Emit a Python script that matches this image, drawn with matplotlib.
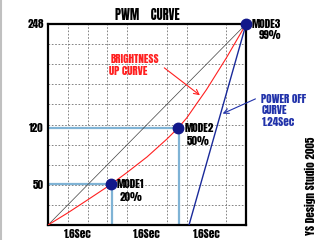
import matplotlib
matplotlib.use("Agg")
import matplotlib.pyplot as plt
from matplotlib.lines import Line2D

plt.rcParams['font.family'] = ['Anton', 'DejaVu Sans']
plt.rcParams['font.stretch'] = 'condensed'

# data (x in grid units 0..10, y in PWM value 0..248)
bright_x = [0, 1, 2, 3.17, 4, 5, 6, 6.58, 7, 8, 9, 10]
bright_y = [0, 15, 31, 50, 65, 84, 106, 120, 132, 167, 206, 248]
off_x = [7.12, 10]
off_y = [0, 248]
mode_x = [3.17, 6.58, 10]
mode_y = [50, 120, 248]
mode_names = ['MODE1', 'MODE2', 'MODE3']
mode_pct = ['20%', '50%', '99%']
ytick_vals = [50, 120, 248]
xtick_pos = [1.5, 5, 8]
xtick_labels = ['1.6Sec', '1.6Sec', '1.6Sec']

fs = 8

fig = plt.figure(figsize=(3.2, 2.4), dpi=100)
ax = fig.add_axes([0.15, 0.0625, 0.619, 0.8375])
ax.set_xlim(0, 10)
ax.set_ylim(0, 248)

# dashed grid
ax.set_xticks(range(1, 10), minor=True)
ax.set_yticks([24.8 * i for i in range(1, 10)], minor=True)
ax.grid(which='minor', linestyle=(0, (2, 2)), color='#707070', linewidth=0.6)
ax.tick_params(which='both', length=0)
ax.set_yticks(ytick_vals)
ax.set_yticklabels([str(v) for v in ytick_vals], fontsize=fs)
ax.set_xticks(xtick_pos)
ax.set_xticklabels(xtick_labels, fontsize=fs)
ax.tick_params(axis='y', pad=3)
ax.tick_params(axis='x', pad=3)
for s in ax.spines.values():
    s.set_linewidth(1.6)

# guide lines to mode 1 and 2
for mx, my in zip(mode_x[:2], mode_y[:2]):
    ax.plot([0, mx], [my, my], color='#7fb3d5', lw=1.6, zorder=2)
    ax.plot([mx + 0.05, mx + 0.05], [0, my], color='#7fb3d5', lw=1.6, zorder=2)

ax.plot([0, 10], [0, 248], color='#404040', lw=0.5, zorder=3)
ax.plot(bright_x, bright_y, color='#ff2020', lw=0.8, zorder=3)
ax.plot(off_x, off_y, color='#1a2a9a', lw=1.0, zorder=3)
ax.plot(mode_x, mode_y, 'o', color='#12188a', ms=7.5, zorder=5, clip_on=False)

ax.text(mode_x[0] + 0.3, mode_y[0], mode_names[0], fontsize=fs, va='center', ha='left')
ax.text(mode_x[0] + 1.0, mode_y[0] - 16, mode_pct[0], fontsize=fs, va='center', ha='center')
ax.text(mode_x[1] + 0.3, mode_y[1], mode_names[1], fontsize=fs, va='center', ha='left')
ax.text(mode_x[1] + 1.0, mode_y[1] - 16, mode_pct[1], fontsize=fs, va='center', ha='center')
ax.text(mode_x[2] + 0.3, mode_y[2], mode_names[2], fontsize=fs, va='center', ha='left')
ax.text(mode_x[2] + 1.2, mode_y[2] - 14, mode_pct[2], fontsize=fs, va='center', ha='center')

ax.text(3.18, 205, 'BRIGHTNESS', fontsize=fs, color='#ff2020', va='center', ha='left')
ax.text(3.1, 190, 'UP CURVE', fontsize=fs, color='#ff2020', va='center', ha='left')
ax.annotate('', xy=(7.78, 158), xytext=(5.76, 196),
            arrowprops=dict(arrowstyle='->', color='#ff2020', lw=0.8,
                            mutation_scale=9))

ax.text(10.75, 156, 'POWER OFF', fontsize=fs, color='#2233aa', va='center', ha='left')
ax.text(10.8, 142, 'CURVE', fontsize=fs, color='#2233aa', va='center', ha='left')
ax.text(10.8, 127, '1.24Sec', fontsize=fs, color='#2233aa', va='center', ha='left')
ax.annotate('', xy=(8.69, 136), xytext=(10.6, 157),
            arrowprops=dict(arrowstyle='->', color='#2233aa', lw=0.8,
                            mutation_scale=9), annotation_clip=False)

ax.set_title('PWM    CURVE', fontsize=9, pad=3)

fig.text(0.969, 0.02, 'YS Design Studio 2005', rotation=90, fontsize=fs,
         ha='center', va='bottom')
fig.add_artist(Line2D([0.003, 0.003], [0, 1], color='#c0c0c0', lw=1.5,
                      transform=fig.transFigure))

fig.savefig('out.png', dpi=100)
